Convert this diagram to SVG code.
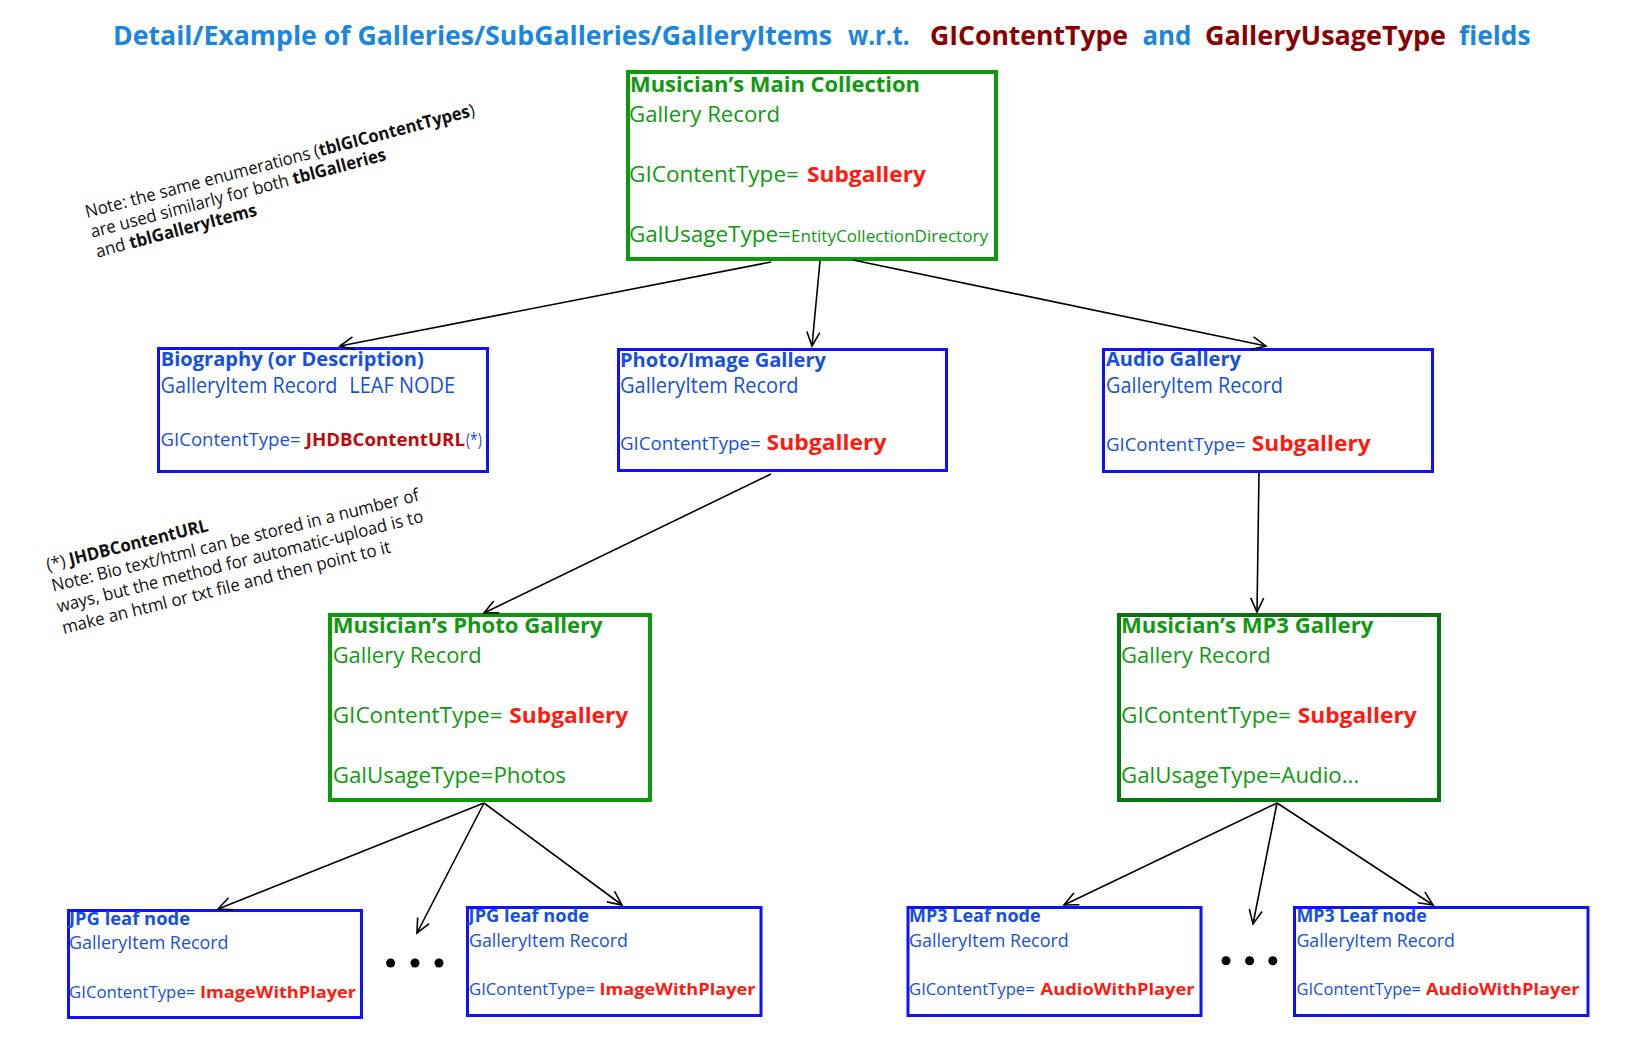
<svg xmlns="http://www.w3.org/2000/svg" width="1651" height="1050" viewBox="0 0 1651 1050">
<defs>
<style>
text{font-family:"Open Sans","Noto Sans","Liberation Sans",sans-serif;}
.b{font-weight:bold;}
.tb{fill:#1a86e0;font-weight:bold;font-size:27px;}
.tr{fill:#880000;font-weight:bold;font-size:27px;}
.g{fill:#109a10;}
.bl{fill:#1550e0;}
.red{fill:#ff1a10;font-weight:bold;}
.dred{fill:#c00808;font-weight:bold;}
.note{fill:#111;font-size:17.5px;}
.gbox{fill:#fff;stroke:#0a9a0a;stroke-width:4;}
.dgbox{fill:#fff;stroke:#0b7412;stroke-width:4;}
.bbox{fill:#fff;stroke:#1010ff;stroke-width:3;}
.con line{stroke:#000;stroke-width:1.6;marker-end:url(#arr);}
</style>
<marker id="arr" markerUnits="userSpaceOnUse" markerWidth="18" markerHeight="16" refX="15" refY="8" orient="auto">
<path d="M1,1.5 L15,8 L1,14.5" fill="none" stroke="#000" stroke-width="1.6"/>
</marker>
</defs>
<rect width="1651" height="1050" fill="#fff"/>

<g id="title">
<text y="45.3"><tspan class="tb" x="113" textLength="719" lengthAdjust="spacingAndGlyphs">Detail/Example of Galleries/SubGalleries/GalleryItems</tspan> <tspan class="tb" x="848" textLength="61.5" lengthAdjust="spacingAndGlyphs">w.r.t.</tspan> <tspan class="tr" x="930" textLength="198" lengthAdjust="spacingAndGlyphs">GIContentType</tspan> <tspan class="tb" x="1142.4" textLength="49" lengthAdjust="spacingAndGlyphs">and</tspan> <tspan class="tr" x="1205" textLength="241" lengthAdjust="spacingAndGlyphs">GalleryUsageType</tspan> <tspan class="tb" x="1459" textLength="71.5" lengthAdjust="spacingAndGlyphs">fields</tspan></text>
</g>

<g id="note1" transform="translate(87,218) rotate(-14.8)">
<text class="note" x="0" y="0" textLength="402" lengthAdjust="spacingAndGlyphs">Note: the same enumerations (<tspan class="b">tblGIContentTypes</tspan>)</text>
<text class="note" x="0" y="20.5" textLength="305" lengthAdjust="spacingAndGlyphs">are used similarly for both <tspan class="b">tblGalleries</tspan></text>
<text class="note" x="0" y="41" textLength="166" lengthAdjust="spacingAndGlyphs">and <tspan class="b">tblGalleryItems</tspan></text>
</g>

<g id="note2" transform="translate(48,571) rotate(-14)">
<text class="note" x="0" y="0" textLength="166" lengthAdjust="spacingAndGlyphs">(*) <tspan class="b">JHDBContentURL</tspan></text>
<text class="note" x="0" y="21.5" textLength="378" lengthAdjust="spacingAndGlyphs">Note:  Bio text/html can be stored in a number of</text>
<text class="note" x="0" y="43" textLength="377" lengthAdjust="spacingAndGlyphs">ways, but the method for automatic-upload is to</text>
<text class="note" x="0" y="65" textLength="338" lengthAdjust="spacingAndGlyphs">make an html or txt file and then point to it</text>
</g>

<g id="main-collection">
<rect class="gbox" x="628" y="72" width="368" height="187"/>
<text class="g b" x="630" y="92" font-size="22" textLength="290" lengthAdjust="spacingAndGlyphs">Musician’s Main Collection</text>
<text class="g" x="629" y="122" font-size="22" textLength="151" lengthAdjust="spacingAndGlyphs">Gallery Record</text>
<text y="182" font-size="22"><tspan class="g" x="629" textLength="170" lengthAdjust="spacingAndGlyphs">GIContentType=</tspan><tspan class="red" x="807" textLength="119" lengthAdjust="spacingAndGlyphs">Subgallery</tspan></text>
<text y="242"><tspan class="g" x="629" font-size="22" textLength="162" lengthAdjust="spacingAndGlyphs">GalUsageType=</tspan><tspan class="g" x="791" font-size="16.5" textLength="197" lengthAdjust="spacingAndGlyphs">EntityCollectionDirectory</tspan></text>
</g>

<g id="biography">
<rect class="bbox" x="158.5" y="348.5" width="329" height="123"/>
<text class="bl b" x="160.7" y="366" font-size="19" textLength="263" lengthAdjust="spacingAndGlyphs">Biography (or Description)</text>
<text class="bl" y="393" font-size="21"><tspan x="160.5" textLength="177" lengthAdjust="spacingAndGlyphs">GalleryItem Record</tspan> <tspan x="349.3" textLength="105.7" lengthAdjust="spacingAndGlyphs">LEAF NODE</tspan></text>
<text y="446" font-size="17.5"><tspan class="bl" x="160.5" textLength="140" lengthAdjust="spacingAndGlyphs">GIContentType=</tspan><tspan class="dred" x="305.7" textLength="159.3" lengthAdjust="spacingAndGlyphs">JHDBContentURL</tspan><tspan class="bl" x="466" textLength="15.7" lengthAdjust="spacingAndGlyphs">(*)</tspan></text>
</g>

<g id="photo-image-gallery">
<rect class="bbox" x="618.5" y="349.5" width="328" height="121"/>
<text class="bl b" x="620" y="366.5" font-size="19" textLength="206" lengthAdjust="spacingAndGlyphs">Photo/Image Gallery</text>
<text class="bl" x="620" y="393" font-size="21" textLength="178.6" lengthAdjust="spacingAndGlyphs">GalleryItem Record</text>
<text y="450"><tspan class="bl" x="620" font-size="17.5" textLength="140.7" lengthAdjust="spacingAndGlyphs">GIContentType=</tspan><tspan class="red" x="766.5" font-size="21" textLength="120" lengthAdjust="spacingAndGlyphs">Subgallery</tspan></text>
</g>

<g id="audio-gallery">
<rect class="bbox" x="1103.5" y="349.5" width="329" height="122"/>
<text class="bl b" x="1106" y="366" font-size="19" textLength="135" lengthAdjust="spacingAndGlyphs">Audio Gallery</text>
<text class="bl" x="1106" y="393" font-size="21" textLength="177" lengthAdjust="spacingAndGlyphs">GalleryItem Record</text>
<text y="450.7"><tspan class="bl" x="1106" font-size="17.5" textLength="139.7" lengthAdjust="spacingAndGlyphs">GIContentType=</tspan><tspan class="red" x="1251.7" font-size="21" textLength="119" lengthAdjust="spacingAndGlyphs">Subgallery</tspan></text>
</g>

<g id="photo-gallery">
<rect class="gbox" x="330" y="615" width="320" height="185"/>
<text class="g b" x="332.7" y="633.3" font-size="21" textLength="270" lengthAdjust="spacingAndGlyphs">Musician’s Photo Gallery</text>
<text class="g" x="332.7" y="663.3" font-size="21" textLength="149" lengthAdjust="spacingAndGlyphs">Gallery Record</text>
<text y="722.7" font-size="21"><tspan class="g" x="332.7" textLength="170" lengthAdjust="spacingAndGlyphs">GIContentType=</tspan><tspan class="red" x="509.3" textLength="119" lengthAdjust="spacingAndGlyphs">Subgallery</tspan></text>
<text class="g" x="332.7" y="783.3" font-size="21" textLength="233.3" lengthAdjust="spacingAndGlyphs">GalUsageType=Photos</text>
</g>

<g id="mp3-gallery">
<rect class="dgbox" x="1119" y="615" width="320" height="185"/>
<text class="g b" x="1121" y="633.3" font-size="21" textLength="252.3" lengthAdjust="spacingAndGlyphs">Musician’s MP3 Gallery</text>
<text class="g" x="1121" y="663.3" font-size="21" textLength="149.7" lengthAdjust="spacingAndGlyphs">Gallery Record</text>
<text y="722.7" font-size="21"><tspan class="g" x="1121" textLength="170" lengthAdjust="spacingAndGlyphs">GIContentType=</tspan><tspan class="red" x="1297.7" textLength="119" lengthAdjust="spacingAndGlyphs">Subgallery</tspan></text>
<text class="g" x="1121" y="783.3" font-size="21" textLength="238.3" lengthAdjust="spacingAndGlyphs">GalUsageType=Audio...</text>
</g>

<g id="jpg-leaf-1">
<rect class="bbox" x="68.5" y="910.5" width="293" height="107"/>
<text class="bl b" x="69" y="925" font-size="17" textLength="121" lengthAdjust="spacingAndGlyphs">JPG leaf node</text>
<text class="bl" x="69" y="949" font-size="17.5" textLength="159.5" lengthAdjust="spacingAndGlyphs">GalleryItem Record</text>
<text y="998.3"><tspan class="bl" x="69" font-size="15.5" textLength="126.4" lengthAdjust="spacingAndGlyphs">GIContentType=</tspan><tspan class="red" x="200" font-size="16.5" textLength="156" lengthAdjust="spacingAndGlyphs">ImageWithPlayer</tspan></text>
</g>

<g id="jpg-leaf-2">
<rect class="bbox" x="467.5" y="907.5" width="293.5" height="108"/>
<text class="bl b" x="468.6" y="922" font-size="17" textLength="120.4" lengthAdjust="spacingAndGlyphs">JPG leaf node</text>
<text class="bl" x="469" y="946.7" font-size="17.5" textLength="159" lengthAdjust="spacingAndGlyphs">GalleryItem Record</text>
<text y="995"><tspan class="bl" x="469" font-size="15.5" textLength="126" lengthAdjust="spacingAndGlyphs">GIContentType=</tspan><tspan class="red" x="599.5" font-size="16.5" textLength="156" lengthAdjust="spacingAndGlyphs">ImageWithPlayer</tspan></text>
</g>

<g id="mp3-leaf-1">
<rect class="bbox" x="908" y="907.5" width="293" height="108"/>
<text class="bl b" x="909" y="922.3" font-size="17" textLength="131.6" lengthAdjust="spacingAndGlyphs">MP3 Leaf node</text>
<text class="bl" x="909" y="946.7" font-size="17.5" textLength="159.7" lengthAdjust="spacingAndGlyphs">GalleryItem Record</text>
<text y="995"><tspan class="bl" x="909" font-size="15.5" textLength="125.8" lengthAdjust="spacingAndGlyphs">GIContentType=</tspan><tspan class="red" x="1040.6" font-size="16.5" textLength="154" lengthAdjust="spacingAndGlyphs">AudioWithPlayer</tspan></text>
</g>

<g id="mp3-leaf-2">
<rect class="bbox" x="1294.5" y="907.5" width="293.5" height="108"/>
<text class="bl b" x="1296.4" y="922.3" font-size="17" textLength="130.4" lengthAdjust="spacingAndGlyphs">MP3 Leaf node</text>
<text class="bl" x="1296.4" y="946.7" font-size="17.5" textLength="158.6" lengthAdjust="spacingAndGlyphs">GalleryItem Record</text>
<text y="995"><tspan class="bl" x="1296.4" font-size="15.5" textLength="124.6" lengthAdjust="spacingAndGlyphs">GIContentType=</tspan><tspan class="red" x="1426" font-size="16.5" textLength="153.5" lengthAdjust="spacingAndGlyphs">AudioWithPlayer</tspan></text>
</g>

<g id="ellipsis" fill="#000">
<circle cx="390.6" cy="963" r="4.5"/><circle cx="415" cy="963" r="4.5"/><circle cx="439" cy="963" r="4.5"/>
<circle cx="1226" cy="960.7" r="4.5"/><circle cx="1249.6" cy="960.7" r="4.5"/><circle cx="1272.8" cy="960.7" r="4.5"/>
</g>

<g id="connectors" class="con">
<line x1="771" y1="262" x2="340" y2="346"/>
<line x1="820" y1="261" x2="812" y2="346"/>
<line x1="853" y1="260" x2="1266" y2="346"/>
<line x1="771" y1="474" x2="484" y2="613"/>
<line x1="1259" y1="472" x2="1257" y2="612"/>
<line x1="484" y1="803" x2="218" y2="909"/>
<line x1="484" y1="803" x2="417" y2="933"/>
<line x1="484" y1="803" x2="622" y2="905"/>
<line x1="1277" y1="803" x2="1064" y2="905"/>
<line x1="1277" y1="803" x2="1253" y2="924"/>
<line x1="1277" y1="803" x2="1433" y2="905"/>
</g>
</svg>
